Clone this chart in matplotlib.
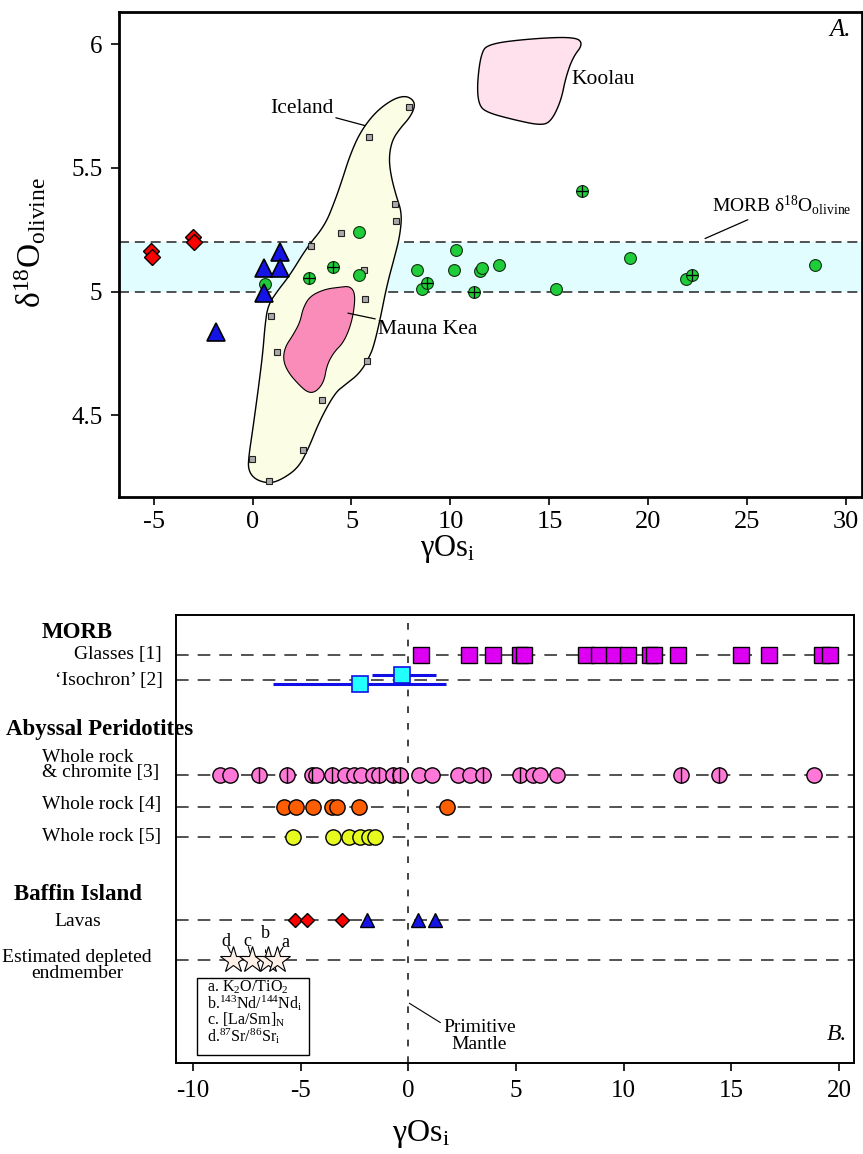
import numpy as np
import matplotlib
matplotlib.use("Agg")
import matplotlib.pyplot as plt
from matplotlib.patches import Polygon, Rectangle

plt.rcParams['font.family'] = ['Liberation Serif', 'DejaVu Serif']
plt.rcParams['mathtext.fontset'] = 'custom'
plt.rcParams['mathtext.rm'] = 'Liberation Serif'
plt.rcParams['mathtext.it'] = 'Liberation Serif:italic'
plt.rcParams['mathtext.bf'] = 'Liberation Serif:bold'

# ---------------- panel A data ----------------
red_x = [-5.15, -5.1, -3.0, -2.95]
red_y = [5.165, 5.14, 5.22, 5.20]
tri_x = [1.39, 0.6, 1.39, 0.6, -1.84]
tri_y = [5.16, 5.094, 5.094, 4.993, 4.835]
green_x = [0.65, 5.39, 5.39, 10.26, 8.29, 10.18, 11.5, 11.6, 12.47, 8.58, 15.36, 19.07, 21.93, 28.41]
green_y = [5.03, 5.239, 5.069, 5.167, 5.089, 5.089, 5.085, 5.095, 5.107, 5.01, 5.01, 5.136, 5.053, 5.107]
greenx_x = [4.05, 2.87, 16.63, 8.8, 11.2, 22.23]
greenx_y = [5.098, 5.056, 5.406, 5.036, 4.998, 5.069]
ice_x = [7.9, 5.88, 7.2, 7.25, 4.45, 2.95, 5.63, 5.68, 0.93, 1.22, 5.77, 3.51, 2.54, -0.04, 0.83]
ice_y = [5.748, 5.623, 5.356, 5.285, 5.237, 5.185, 5.087, 4.969, 4.901, 4.755, 4.721, 4.56, 4.361, 4.325, 4.233]

iceland_x = [7.70, 8.11, 8.21, 7.95, 7.45, 7.05, 6.89, 6.99, 7.25, 7.55, 7.45, 7.20, 6.79, 6.44,
             6.14, 5.93, 5.43, 4.67, 4.17, 3.41, 2.80, 2.30, 1.54, 0.88, 0.13, -0.23, -0.18, -0.03,
             0.18, 0.38, 0.53, 0.63, 0.78, 1.29, 1.89, 2.75, 3.66, 4.17, 4.52, 4.92, 5.43, 6.19, 7.05]
iceland_y = [5.792, 5.776, 5.748, 5.704, 5.659, 5.611, 5.542, 5.470, 5.389, 5.317, 5.228, 5.147,
             5.026, 4.885, 4.785, 4.740, 4.671, 4.623, 4.591, 4.482, 4.361, 4.288, 4.244, 4.224,
             4.240, 4.280, 4.341, 4.421, 4.542, 4.663, 4.764, 4.865, 4.946, 5.006, 5.067, 5.179,
             5.268, 5.369, 5.450, 5.550, 5.643, 5.724, 5.776]
mk_x = [4.42, 4.92, 5.18, 5.13, 4.92, 4.57, 4.12, 3.76, 3.61, 3.21, 2.80, 2.30, 1.79, 1.54,
        1.64, 2.05, 2.40, 2.55, 2.90, 3.66]
mk_y = [5.018, 5.022, 4.994, 4.925, 4.853, 4.792, 4.756, 4.704, 4.635, 4.595, 4.591, 4.627,
        4.675, 4.724, 4.776, 4.825, 4.877, 4.933, 4.982, 5.010]
koolau_x = [11.89, 14.02, 16.31, 16.71, 16.19, 15.83, 15.59, 15.12, 14.64, 13.33, 11.78, 11.42, 11.35, 11.54]
koolau_y = [6.001, 6.022, 6.030, 6.001, 5.947, 5.866, 5.772, 5.692, 5.671, 5.692, 5.725, 5.759, 5.839, 5.960]

morb_lo, morb_hi = 5.0, 5.2

# ---------------- panel B data ----------------
row_y = {'glass': 1.6, 'iso': 2.6, 'wr3': 6.4, 'wr4': 7.68, 'wr5': 8.88, 'lavas': 12.2, 'est': 13.8}
glass_x = [0.57, 2.83, 3.92, 5.19, 5.35, 8.27, 8.87, 9.54, 10.2, 11.2, 11.42, 12.5, 15.45, 16.73, 19.2, 19.58]
iso_x = [-2.26, -0.3]
iso_y = [2.74, 2.4]
iso_lo = [-6.3, -1.68]
iso_hi = [1.73, 1.3]
wr3_x = [-8.75, -8.3, -6.95, -5.65, -4.5, -4.3, -3.55, -2.95, -2.55, -2.2, -1.65, -1.35, -0.7, -0.4,
         0.5, 1.1, 2.3, 2.85, 3.45, 5.2, 5.8, 6.1, 6.9, 12.65, 14.45, 18.85]
wr3_bar = [0, 0, 1, 1, 1, 0, 1, 0, 0, 0, 0, 1, 1, 1, 0, 0, 0, 0, 1, 1, 0, 0, 0, 1, 1, 0]
wr4_x = [-5.79, -5.23, -4.43, -3.53, -3.34, -2.30, 1.78]
wr5_x = [-5.36, -3.50, -2.75, -2.26, -1.82, -1.56]
lava_dia_x = [-5.28, -4.73, -3.11]
lava_tri_x = [-1.94, 0.46, 1.23]
star_x = [-8.15, -7.25, -6.52, -6.13]
star_lab = ['d', 'c', 'b', 'a']
star_lab_pos = [(-8.5, 13.05), (-7.5, 13.05), (-6.64, 12.72), (-5.7, 13.1)]
key_lines = [r'a. K$_2$O/TiO$_2$', r'b.$^{143}$Nd/$^{144}$Nd$_\mathrm{i}$',
             r'c. [La/Sm]$_\mathrm{N}$', r'd.$^{87}$Sr/$^{86}$Sr$_\mathrm{i}$']


def smooth(xs, ys, n=3):
    pts = np.column_stack([xs, ys])
    for _ in range(n):
        nxt = np.roll(pts, -1, axis=0)
        q = 0.75 * pts + 0.25 * nxt
        r = 0.25 * pts + 0.75 * nxt
        pts = np.empty((2 * len(q), 2))
        pts[0::2] = q
        pts[1::2] = r
    return pts


fig = plt.figure(figsize=(8.63, 11.54), dpi=100)

# ================= panel A =================
ax = fig.add_axes([119 / 863, 1 - 497 / 1154, 743 / 863, 485 / 1154])
ax.set_xlim(-6.75, 30.8)
ax.set_ylim(4.17, 6.13)

ax.axhspan(morb_lo, morb_hi, color='#e2fdff', zorder=0, lw=0)
for yy in (morb_lo, morb_hi):
    ax.axhline(yy, color='#333333', lw=1.2, ls=(0, (6, 3.5)), zorder=1)

ax.add_patch(Polygon(smooth(iceland_x, iceland_y), closed=True, fc='#fcfde5', ec='black', lw=1.0, zorder=2))
ax.add_patch(Polygon(smooth(mk_x, mk_y), closed=True, fc='#f98cb8', ec='black', lw=0.8, zorder=3))
ax.add_patch(Polygon(smooth(koolau_x, koolau_y), closed=True, fc='#ffe1ee', ec='black', lw=1.0, zorder=2))

ax.plot(ice_x, ice_y, 's', ms=5, mfc='#a9a9a9', mec='#222222', mew=0.8, zorder=4)
ax.plot(green_x, green_y, 'o', ms=8.5, mfc='#1fcc3a', mec='#103010', mew=0.8, zorder=5)
ax.plot(greenx_x, greenx_y, 'o', ms=8.5, mfc='#1fcc3a', mec='#103010', mew=0.8, zorder=5)
ax.plot(greenx_x, greenx_y, '+', ms=8, mec='black', mew=0.9, zorder=6)
ax.plot(red_x, red_y, 'D', ms=8.5, mfc='#ff0000', mec='black', mew=1.0, zorder=5)
ax.plot(tri_x, tri_y, '^', ms=13, mfc='#1414e6', mec='black', mew=1.2, zorder=5)

ax.annotate('Iceland', xy=(5.68, 5.671), xytext=(4.07, 5.74), fontsize=15.5,
            ha='right', va='center', arrowprops=dict(arrowstyle='-', lw=0.9, shrinkA=0, shrinkB=0))
ax.text(16.14, 5.857, 'Koolau', fontsize=15.5, ha='left', va='center')
ax.annotate('Mauna Kea', xy=(4.82, 4.913), xytext=(6.34, 4.845), fontsize=15.5,
            ha='left', va='center', arrowprops=dict(arrowstyle='-', lw=0.9, shrinkA=0, shrinkB=0))
ax.annotate(r'MORB $\mathrm{δ}^{18}\mathrm{O}_{\mathrm{olivine}}$', xy=(22.74, 5.21), xytext=(23.2, 5.35),
            fontsize=14, ha='left', va='center',
            arrowprops=dict(arrowstyle='-', lw=0.9, shrinkA=0, shrinkB=2))
ax.text(0.985, 0.963, 'A.', transform=ax.transAxes, fontsize=18, style='italic', ha='right', va='center')

ax.set_xticks([-5, 0, 5, 10, 15, 20, 25, 30])
ax.set_xticklabels(['-5', '0', '5', '10', '15', '20', '25', '30'])
ax.set_yticks([4.5, 5, 5.5, 6])
ax.set_yticklabels(['4.5', '5', '5.5', '6'])
ax.tick_params(direction='out', length=6, width=1.2, labelsize=19, pad=4)
ax.tick_params(axis='y', labelsize=18, pad=6)
for s in ax.spines.values():
    s.set_linewidth(2.0)

fig.text(448 / 863, 1 - 549 / 1154, r'$\mathrm{γOs}_{\mathrm{i}}$', fontsize=22, ha='center', va='center')
fig.text(30 / 863, 1 - 243 / 1154, r'$\mathrm{δ}^{18}\mathrm{O}_{\mathrm{olivine}}$', fontsize=24,
         rotation=90, ha='center', va='center')

# ================= panel B =================
bx = fig.add_axes([176 / 863, 1 - 1063 / 1154, 678 / 863, 448 / 1154])
bx.set_xlim(-10.8, 20.7)
bx.set_ylim(17.92, 0)

for key, yy in row_y.items():
    bx.axhline(yy, color='#444444', lw=1.3, ls=(0, (7, 5)), zorder=1)
bx.axvline(0, color='#222222', lw=1.2, ls=(0, (4, 6)), zorder=1)

yg = row_y['glass']
bx.plot(glass_x, [yg] * len(glass_x), 's', ms=11, mfc='#dd00f2', mec='black', mew=1.0, zorder=4)

iso_err = [np.subtract(iso_x, iso_lo), np.subtract(iso_hi, iso_x)]
bx.errorbar(iso_x, iso_y, xerr=iso_err, fmt='s', ms=12, mfc='#22ffff', mec='#1010e6', mew=1.2,
            ecolor='#1010e6', elinewidth=2.2, capsize=0, zorder=4)

y3 = row_y['wr3']
bx.plot(wr3_x, [y3] * len(wr3_x), 'o', ms=11, mfc='#ff78d8', mec='black', mew=1.0, zorder=4)
bar_x = [x for x, b in zip(wr3_x, wr3_bar) if b]
bx.plot(bar_x, [y3] * len(bar_x), '|', ms=11, mec='black', mew=1.0, zorder=5)

y4 = row_y['wr4']
bx.plot(wr4_x, [y4] * len(wr4_x), 'o', ms=11, mfc='#ff5e00', mec='black', mew=1.0, zorder=4)
y5 = row_y['wr5']
bx.plot(wr5_x, [y5] * len(wr5_x), 'o', ms=11, mfc='#e6fa1e', mec='black', mew=1.0, zorder=4)

yl = row_y['lavas']
bx.plot(lava_dia_x, [yl] * len(lava_dia_x), 'D', ms=7, mfc='#ff0000', mec='black', mew=1.0, zorder=4)
bx.plot(lava_tri_x, [yl] * len(lava_tri_x), '^', ms=10, mfc='#1414e6', mec='black', mew=1.0, zorder=4)

ye = row_y['est']
bx.plot(star_x, [ye] * len(star_x), '*', ms=20, mfc='#fff0e8', mec='black', mew=0.8, zorder=4)
for sx, lab, (tx, ty) in zip(star_x, star_lab, star_lab_pos):
    bx.annotate(lab, xy=(sx - 0.12 if lab != 'a' else sx + 0.15, ye - 0.3), xytext=(tx, ty),
                fontsize=13, ha='center', va='center',
                arrowprops=dict(arrowstyle='-', lw=0.8, shrinkA=4, shrinkB=0))

bx.add_patch(Rectangle((0.0314, 0.0179), 0.1652, 0.1725, transform=bx.transAxes,
                       fc='white', ec='black', lw=1.0, zorder=6))
bx.text(0.046, 0.188, '\n'.join(key_lines), transform=bx.transAxes, fontsize=11.5,
        ha='left', va='top', linespacing=0.82, zorder=7)

bx.annotate('Primitive\nMantle', xy=(0.04, 15.53), xytext=(3.3, 16.84), fontsize=14,
            ha='center', va='center', linespacing=0.95,
            arrowprops=dict(arrowstyle='-', lw=0.8, shrinkA=0, shrinkB=0, relpos=(0.0, 0.85)))
bx.text(0.99, 0.0625, 'B.', transform=bx.transAxes, fontsize=17, style='italic', ha='right', va='center')

bx.set_xticks([-10, -5, 0, 5, 10, 15, 20])
bx.set_xticklabels(['-10', '-5', '0', '5', '10', '15', '20'])
bx.set_yticks([])
bx.tick_params(direction='out', length=6, width=1.2, labelsize=18, pad=6)
for s in bx.spines.values():
    s.set_linewidth(1.4)

fig.text(421 / 863, 1 - 1134 / 1154, r'$\mathrm{γOs}_{\mathrm{i}}$', fontsize=23, ha='center', va='center')

# row labels on the left
def lab(x, y, s, ha='center', bold=False, size=14):
    fig.text(x / 863, 1 - y / 1154, s, ha=ha, va='center', fontsize=size,
             fontweight='bold' if bold else 'normal')

lab(77, 632, 'MORB', bold=True, size=16.5)
lab(162, 655, 'Glasses [1]', ha='right')
lab(163, 680, '\u2018Isochron\u2019 [2]', ha='right')
lab(99.5, 729, 'Abyssal Peridotites', bold=True, size=16.5)
lab(42, 758, 'Whole rock', ha='left')
lab(42, 773, '& chromite [3]', ha='left')
lab(42, 805, 'Whole rock [4]', ha='left')
lab(42, 837, 'Whole rock [5]', ha='left')
lab(78, 895, 'Baffin Island', bold=True, size=16.5)
lab(78, 922, 'Lavas')
lab(77, 957, 'Estimated depleted')
lab(77, 973, 'endmember')

fig.savefig('out.png', dpi=100)
